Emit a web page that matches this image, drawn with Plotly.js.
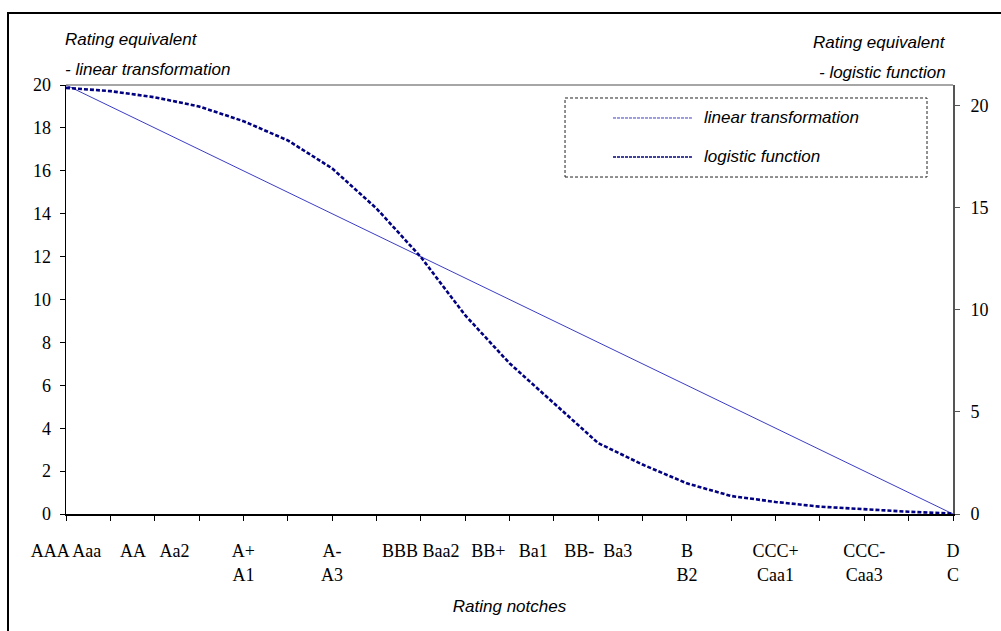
<!DOCTYPE html>
<html>
<head>
<meta charset="utf-8">
<script src="https://cdn.plot.ly/plotly-3.0.1.min.js"></script>
<style>
  html, body { margin: 0; padding: 0; overflow: hidden; background: #fff; }
  #chart { position: absolute; left: 0; top: 0; width: 1001px; height: 631px; }
  #frame { position: absolute; left: 7px; top: 12px; width: 1010px; height: 640px;
           border: 2px solid #000; pointer-events: none; }
</style>
</head>
<body>
<div id="chart"></div>
<div id="frame"></div>
<script>
// ---- data ----
const notchIndex = [0, 1, 2, 3, 4, 5, 6, 7, 8, 9, 10, 11, 12, 13, 14, 15, 16, 17, 18, 19, 20];
const notchLabels = [
  'AAA Aaa', '', 'AA\u00a0\u00a0\u00a0Aa2', '', 'A+<br>A1', '', 'A-<br>A3', '',
  'BBB Baa2', '', 'BB+\u00a0\u00a0\u00a0Ba1', '', 'BB-\u00a0\u00a0Ba3', '', 'B<br>B2', '',
  'CCC+<br>Caa1', '', 'CCC-<br>Caa3', '', 'D<br>C'
];
const linearValues = [20, 19, 18, 17, 16, 15, 14, 13, 12, 11, 10, 9, 8, 7, 6, 5, 4, 3, 2, 1, 0];
const logisticValues = [20.86, 20.7, 20.4, 19.95, 19.23, 18.29, 16.92, 14.96, 12.58, 9.73, 7.38,
                        5.43, 3.47, 2.42, 1.5, 0.88, 0.59, 0.36, 0.23, 0.11, 0.02];
const leftTicks = [0, 2, 4, 6, 8, 10, 12, 14, 16, 18, 20];
const rightTicks = [0, 5, 10, 15, 20];
const seriesNames = ['linear transformation', 'logistic function'];

// ---- styles ----
const serif = 'Liberation Serif, Times New Roman, serif';
const sans = 'Liberation Sans, Arial, sans-serif';
const linColor = '#3c3cc4';
const logColor = '#000080';

const traces = [
  { x: notchIndex, y: linearValues, name: seriesNames[0], type: 'scatter', mode: 'lines',
    xaxis: 'x', yaxis: 'y', line: { color: linColor, width: 1 } },
  { x: notchIndex, y: logisticValues, name: seriesNames[1], type: 'scatter', mode: 'lines',
    xaxis: 'x', yaxis: 'y2', line: { color: logColor, width: 2.6, dash: '4px,2px' } }
];

const tickFont = { family: serif, size: 18, color: '#000' };
const plain = { showgrid: false, zeroline: false };
const titleFont = { family: sans, size: 17, style: 'italic', color: '#000' };

const layout = {
  width: 1001, height: 631,
  margin: { l: 66, r: 48, t: 85, b: 117 },
  paper_bgcolor: '#fff', plot_bgcolor: '#fff',
  showlegend: false,
  xaxis: Object.assign({}, plain, {
    range: [0, 20], tickmode: 'array', tickvals: notchIndex, ticktext: notchLabels,
    ticks: 'outside', ticklen: 5, tickcolor: '#000', tickwidth: 1,
    showline: true, linecolor: '#000', linewidth: 1.5,
    tickfont: tickFont, tickangle: 0, ticklabelstandoff: 15,
    title: { text: 'Rating notches', font: titleFont, standoff: 16 }
  }),
  xaxis2: Object.assign({}, plain, {
    overlaying: 'x', anchor: 'y', side: 'bottom', range: [0, 20],
    tickmode: 'array', tickvals: notchIndex, ticks: 'inside', ticklen: 5, tickcolor: '#000',
    showticklabels: false, showline: false
  }),
  yaxis: Object.assign({}, plain, {
    range: [0, 20], tickmode: 'array', tickvals: leftTicks,
    ticks: 'outside', ticklen: 5, tickcolor: '#000',
    showline: true, linecolor: '#000', linewidth: 1.5,
    tickfont: tickFont, ticklabelstandoff: 5
  }),
  yaxis2: Object.assign({}, plain, {
    overlaying: 'y', side: 'right', anchor: 'x', range: [0, 21],
    tickmode: 'array', tickvals: rightTicks,
    ticks: 'outside', ticklen: 5, tickcolor: '#555',
    showline: true, linecolor: '#555', linewidth: 2,
    tickfont: tickFont, ticklabelstandoff: 7
  }),
  yaxis3: Object.assign({}, plain, {
    overlaying: 'y', side: 'left', anchor: 'x', range: [0, 20],
    tickmode: 'array', tickvals: leftTicks, ticks: 'inside', ticklen: 5, tickcolor: '#000',
    showticklabels: false, showline: false
  }),
  yaxis4: Object.assign({}, plain, {
    overlaying: 'y', side: 'right', anchor: 'x', range: [0, 21],
    tickmode: 'array', tickvals: rightTicks, ticks: 'inside', ticklen: 5, tickcolor: '#555',
    showticklabels: false, showline: false
  }),
  shapes: [
    // top border of plot area
    { type: 'line', xref: 'paper', yref: 'paper', x0: 0, x1: 1, y0: 1, y1: 1,
      line: { color: '#888', width: 1.5 } },
    // legend box
    { type: 'rect', xref: 'paper', yref: 'paper', x0: 0.5626, x1: 0.9707, y0: 0.7855, y1: 0.9697,
      line: { color: '#222', width: 1, dash: '3px,2px' }, fillcolor: 'rgba(0,0,0,0)' },
    // legend samples
    { type: 'line', xref: 'paper', yref: 'paper', x0: 0.6167, x1: 0.7057, y0: 0.9231, y1: 0.9231,
      line: { color: linColor, width: 1, dash: '3px,1px' } },
    { type: 'line', xref: 'paper', yref: 'paper', x0: 0.6167, x1: 0.7057, y0: 0.8322, y1: 0.8322,
      line: { color: logColor, width: 1.5, dash: '3px,1px' } }
  ],
  annotations: [
    { xref: 'paper', yref: 'paper', x: -0.0034, y: 1.1049, xanchor: 'left', yanchor: 'middle',
      text: 'Rating equivalent', showarrow: false, font: titleFont },
    { xref: 'paper', yref: 'paper', x: -0.0034, y: 1.035, xanchor: 'left', yanchor: 'middle',
      text: '- linear transformation', showarrow: false, font: titleFont },
    { xref: 'paper', yref: 'paper', x: 0.9944, y: 1.1002, xanchor: 'right', yanchor: 'middle',
      text: 'Rating equivalent', showarrow: false, font: titleFont },
    { xref: 'paper', yref: 'paper', x: 0.9944, y: 1.0303, xanchor: 'right', yanchor: 'middle',
      text: '- logistic function', showarrow: false, font: titleFont },
    { xref: 'paper', yref: 'paper', x: 0.717, y: 0.9231, xanchor: 'left', yanchor: 'middle',
      text: seriesNames[0], showarrow: false, font: titleFont },
    { xref: 'paper', yref: 'paper', x: 0.717, y: 0.8322, xanchor: 'left', yanchor: 'middle',
      text: seriesNames[1], showarrow: false, font: titleFont }
  ]
};

Plotly.newPlot('chart', traces, layout, { staticPlot: true, displayModeBar: false });
</script>
</body>
</html>
